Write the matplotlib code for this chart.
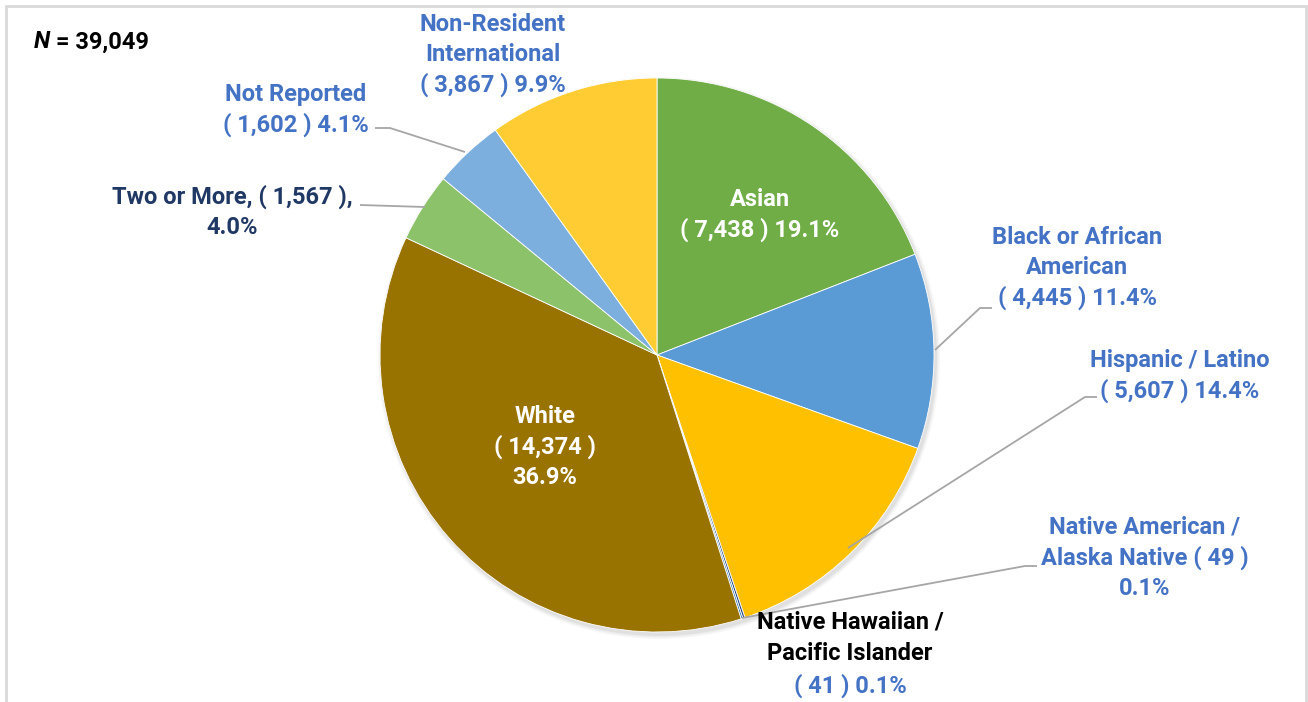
import matplotlib
matplotlib.use("Agg")
import matplotlib.pyplot as plt
from matplotlib.patches import Rectangle

categories = ["Asian", "Black or African American", "Hispanic / Latino",
              "Native American / Alaska Native", "Native Hawaiian / Pacific Islander",
              "White", "Two or More", "Not Reported", "Non-Resident International"]
counts = [7438, 4445, 5607, 49, 41, 14374, 1567, 1602, 3867]
pct_labels = ["19.1%", "11.4%", "14.4%", "0.1%", "0.1%", "36.9%", "4.0%", "4.1%", "9.9%"]
colors = ["#70AD47", "#5B9BD5", "#FFC000", "#264478", "#2E75B6",
          "#997300", "#8CC26A", "#7CAFDD", "#FFCD33"]
total_n = "39,049"

W, H = 1308, 702
fig = plt.figure(figsize=(W / 100, H / 100), dpi=100)
ax = fig.add_axes([0, 0, 1, 1])

def Y(y):
    return H - y

cx, cy, r = 657, Y(355), 277
for i, a in enumerate([0.05, 0.04, 0.03]):
    ax.add_patch(plt.Circle((cx + 2, cy - 3), r + 1 + i * 1.5, color="#000000",
                            alpha=a, lw=0, zorder=0))
ax.pie(counts, colors=colors, startangle=90, counterclock=False,
       center=(cx, cy), radius=r, frame=True,
       wedgeprops=dict(linewidth=0.6, edgecolor="white"))
ax.set_xlim(0, W)
ax.set_ylim(0, H)
ax.set_aspect("equal")
ax.axis("off")

FONT = ["Roboto", "DejaVu Sans"]
blue = "#4472C4"
navy = "#203864"
fs = 17

def txt(x, y, s, color, **kw):
    ax.text(x, Y(y), s, color=color, fontsize=fs, fontweight="bold", family=FONT,
            ha="center", va="center", linespacing=1.38, zorder=5, **kw)

def fmt(i):
    return f"( {counts[i]:,} )"

txt(760, 215, f"Asian\n{fmt(0)} {pct_labels[0]}", "white")
txt(545, 447, f"White\n{fmt(5)}\n{pct_labels[5]}", "white")
txt(1077, 268, f"Black or African\nAmerican\n{fmt(1)} {pct_labels[1]}", blue)
txt(1180, 376, f"Hispanic / Latino\n{fmt(2)} {pct_labels[2]}", blue)
txt(1145, 558, f"Native American /\nAlaska Native ( {counts[3]} )\n{pct_labels[3]}", blue)
txt(850, 622, "Native Hawaiian /", "black")
txt(850, 654, "Pacific Islander", "black")
txt(850, 686, f"( {counts[4]} ) {pct_labels[4]}", blue)
txt(232, 212, f"Two or More, {fmt(6)},\n{pct_labels[6]}", navy)
txt(296, 110, f"Not Reported\n{fmt(7)} {pct_labels[7]}", blue)
txt(493, 55, f"Non-Resident\nInternational\n{fmt(8)} {pct_labels[8]}", blue)

ax.text(34, Y(42), "N", fontsize=fs, fontweight="bold", fontstyle="italic", family=FONT,
        color="black", ha="left", va="center")
ax.text(50, Y(42), f" = {total_n}", fontsize=fs, fontweight="bold", family=FONT,
        color="black", ha="left", va="center")

lc = "#A6A6A6"
def leader(pts):
    ax.plot([p[0] for p in pts], [Y(p[1]) for p in pts], color=lc, lw=1.3,
            zorder=4, solid_capstyle="butt")

leader([(935, 350), (980, 308), (992, 308)])
leader([(848, 548), (1085, 397), (1097, 397)])
leader([(742, 618), (1025, 566), (1037, 566)])
leader([(360, 205), (425, 207)])
leader([(375, 128), (390, 128), (465, 152)])

fig.patches.append(Rectangle((6 / W, -0.05), 1300 / W, 1.05 - 6 / H, transform=fig.transFigure,
                             fill=False, edgecolor="#D9D9D9", lw=2))
fig.savefig("out.png", dpi=100, facecolor="white")
